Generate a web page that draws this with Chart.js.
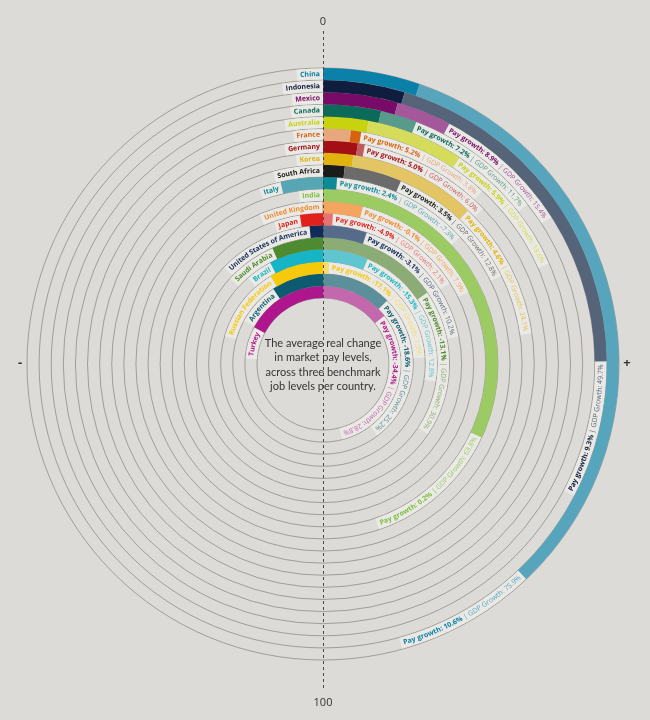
<!DOCTYPE html>
<html>
<head>
<meta charset="utf-8">
<script src="https://cdn.jsdelivr.net/npm/chart.js@4.4.0/dist/chart.umd.min.js"></script>
<style>
  html, body { margin: 0; padding: 0; background: #dcdbd7; }
  #wrap { width: 650px; height: 720px; position: relative; }
</style>
</head>
<body>
<div id="wrap"><canvas id="pay-chart"></canvas></div>
<script>
// one ring per country, outermost first
const countries = ['China', 'Indonesia', 'Mexico', 'Canada', 'Australia', 'France', 'Germany', 'Korea',
    'South Africa', 'Italy', 'India', 'United Kingdom', 'Japan', 'United States of America',
    'Saudi Arabia', 'Brazil', 'Russian Federation', 'Argentina', 'Turkey'];
const payGrowth = [10.6, 9.3, 8.9, 7.2, 5.9, 5.2, 5.0, 4.6, 3.5, 2.4, 0.2, -0.1, -4.9, -3.1,
    -13.1, -15.3, -17.1, -18.6, -34.4];
const gdpGrowth = [75.9, 49.7, 15.4, 11.7, 18.6, 3.8, 6.0, 24.1, 12.8, -7.3, 63.8, 7.9, 2.1, 10.2,
    30.9, 12.8, 1.9, 25.2, 28.8];
const darkColors = ['#0b80a8', '#0f1e3f', '#790b68', '#0b6a58', '#c6d30e', '#d8620f', '#a30f15', '#e2b30c',
    '#1b1b1b', '#0e8996', '#7cbf3f', '#f08a2e', '#e2211d', '#102a5a', '#4e8a2f', '#15b4c7', '#f6c90a',
    '#0c5b70', '#af168d'];
const lightColors = ['#57a5bd', '#566479', '#a5579b', '#579b8b', '#d5dc5a', '#e6a87c', '#c05a5c', '#e3c563',
    '#6b6b6b', '#57a6b3', '#9dcb63', '#f4a660', '#e87272', '#566a8a', '#8bad75', '#5fc6d1', '#f5dc6c',
    '#5b8f9a', '#c468ae'];
const axisLabels = { top: '0', bottom: '100', left: '-', right: '+' };
const centerText = ['The average real change', 'in market pay levels,', 'across three benchmark', 'job levels per country.'];

// the full circle spans -100 .. +100
const FULL = 200;
const DEG_PER_UNIT = 360 / FULL;
const FONT = '"Open Sans", sans-serif';
const STRIP = '#eae9e5';

function buildSegments(i) {
    const items = [
        { v: payGrowth[i], color: darkColors[i] },
        { v: gdpGrowth[i], color: lightColors[i] }
    ];
    const side = list => {
        list.sort((a, b) => a.v - b.v);
        const segs = [];
        let prev = 0;
        list.forEach(it => { segs.push({ v: it.v - prev, color: it.color }); prev = it.v; });
        return { segs, total: prev };
    };
    const left = side(items.filter(it => it.v < 0).map(it => ({ v: -it.v, color: it.color })));
    const right = side(items.filter(it => it.v >= 0).map(it => ({ v: it.v, color: it.color })));
    const segs = [...left.segs.reverse(), ...right.segs];
    const data = segs.map(s => s.v);
    const colors = segs.map(s => s.color);
    data.push(FULL - left.total - right.total);
    colors.push('rgba(0,0,0,0)');
    return { data, colors, left: left.total, right: right.total };
}

const rings = countries.map((c, i) => buildSegments(i));

const datasets = rings.map((r, i) => ({
    label: countries[i],
    data: r.data,
    backgroundColor: r.colors,
    borderWidth: 0,
    hoverBorderWidth: 0,
    rotation: -r.left * DEG_PER_UNIT,
    circumference: 360
}));

function toCanvasAngle(a) {
    return a - Math.PI / 2;
}

function measureParts(ctx, parts) {
    let w = 0;
    parts.forEach(p => {
        ctx.font = p.font;
        for (const ch of p.text) w += ctx.measureText(ch).width;
    });
    return w;
}

// text along an arc; angle is clockwise from top, dir 1 = reads clockwise, -1 = reads counterclockwise
function arcText(ctx, cx, cy, r, angle, parts, dir) {
    ctx.save();
    ctx.textAlign = 'center';
    ctx.textBaseline = 'middle';
    let offset = 0;
    parts.forEach(p => {
        ctx.font = p.font;
        ctx.fillStyle = p.color;
        for (const ch of p.text) {
            const w = ctx.measureText(ch).width;
            const a = angle + dir * (offset + w / 2) / r;
            ctx.save();
            ctx.translate(cx + r * Math.sin(a), cy - r * Math.cos(a));
            ctx.rotate(dir > 0 ? a : a + Math.PI);
            ctx.fillText(ch, 0, 0);
            ctx.restore();
            offset += w;
        }
    });
    ctx.restore();
}

function strip(ctx, cx, cy, r, width, a1, a2) {
    ctx.save();
    ctx.strokeStyle = STRIP;
    ctx.lineWidth = width;
    ctx.beginPath();
    ctx.arc(cx, cy, r, toCanvasAngle(a1), toCanvasAngle(a2));
    ctx.stroke();
    ctx.restore();
}

function ringLabels(i) {
    const fmt = v => (v === 0 ? '0' : v.toFixed(1)) + '%';
    return {
        name: [{ text: countries[i], font: 'bold 7px ' + FONT, color: darkColors[i] }],
        value: [
            { text: 'Pay growth: ' + fmt(payGrowth[i]), font: 'bold 7px ' + FONT, color: darkColors[i] },
            { text: ' | GDP Growth: ' + fmt(gdpGrowth[i]), font: '7px ' + FONT, color: lightColors[i] }
        ]
    };
}

const ringPlugin = {
    id: 'ringDecor',
    beforeDatasetsDraw(chart) {
        const ctx = chart.ctx;
        const GAP = 3;
        ctx.save();
        // thin gray ring outlines
        ctx.strokeStyle = '#979692';
        ctx.lineWidth = 0.9;
        chart.data.datasets.forEach((ds, i) => {
            const arc = chart.getDatasetMeta(i).data[0];
            ctx.beginPath();
            ctx.arc(arc.x, arc.y, arc.outerRadius, 0, Math.PI * 2);
            ctx.stroke();
            if (i === chart.data.datasets.length - 1) {
                ctx.beginPath();
                ctx.arc(arc.x, arc.y, arc.innerRadius, 0, Math.PI * 2);
                ctx.stroke();
            }
        });
        // light strips behind labels
        chart.data.datasets.forEach((ds, i) => {
            const arc = chart.getDatasetMeta(i).data[0];
            const r = (arc.innerRadius + arc.outerRadius) / 2;
            const w = arc.outerRadius - arc.innerRadius - 1;
            const lab = ringLabels(i);
            const start = -rings[i].left * DEG_PER_UNIT * Math.PI / 180;
            const end = rings[i].right * DEG_PER_UNIT * Math.PI / 180;
            const nameW = measureParts(ctx, lab.name);
            const valW = measureParts(ctx, lab.value);
            strip(ctx, arc.x, arc.y, r, w, start - (nameW + GAP * 2) / r, start);
            strip(ctx, arc.x, arc.y, r, w, end, end + (valW + GAP * 2) / r);
        });
        ctx.restore();
    },
    afterDatasetsDraw(chart) {
        const ctx = chart.ctx;
        const GAP = 3;
        const first = chart.getDatasetMeta(0).data[0];
        const cx = first.x, cy = first.y;
        ctx.save();
        // labels
        chart.data.datasets.forEach((ds, i) => {
            const arc = chart.getDatasetMeta(i).data[0];
            const r = (arc.innerRadius + arc.outerRadius) / 2;
            const lab = ringLabels(i);
            const start = -rings[i].left * DEG_PER_UNIT * Math.PI / 180;
            const end = rings[i].right * DEG_PER_UNIT * Math.PI / 180;
            const nameW = measureParts(ctx, lab.name);
            const valW = measureParts(ctx, lab.value);
            arcText(ctx, cx, cy, r, start - (nameW + GAP) / r, lab.name, 1);
            if (end * 180 / Math.PI > 70) {
                arcText(ctx, cx, cy, r, end + (valW + GAP) / r, lab.value, -1);
            } else {
                arcText(ctx, cx, cy, r, end + GAP / r, lab.value, 1);
            }
        });
        // dashed zero line
        ctx.strokeStyle = '#4a4a4a';
        ctx.lineWidth = 1;
        ctx.setLineDash([3, 3]);
        ctx.beginPath();
        ctx.moveTo(cx + 0.5, 31);
        ctx.lineTo(cx + 0.5, 691);
        ctx.stroke();
        ctx.setLineDash([]);
        // axis marks
        ctx.fillStyle = '#333';
        ctx.textAlign = 'center';
        ctx.textBaseline = 'middle';
        ctx.font = '11px ' + FONT;
        ctx.fillText(axisLabels.top, cx, 22);
        ctx.fillText(axisLabels.bottom, cx, 703);
        ctx.font = 'bold 13px ' + FONT;
        ctx.fillText(axisLabels.left, 20, cy - 1);
        ctx.fillText(axisLabels.right, 627, cy - 1);
        // center caption
        ctx.font = '11px Lato, sans-serif';
        ctx.fillStyle = '#333';
        centerText.forEach((line, k) => {
            ctx.fillText(line, cx, cy - 21 + k * 14.5);
        });
        ctx.restore();
    }
};

document.addEventListener('DOMContentLoaded', () => {
    const ctx = document.getElementById('pay-chart').getContext('2d');
    new Chart(ctx, {
        type: 'doughnut',
        data: {
            labels: countries.map(() => ''),
            datasets: datasets
        },
        options: {
            responsive: true,
            maintainAspectRatio: false,
            animation: false,
            cutout: 66,
            layout: {
                padding: { left: 27, right: 31, top: 68, bottom: 60 }
            },
            plugins: {
                legend: { display: false },
                tooltip: { enabled: false }
            },
            events: []
        },
        plugins: [ringPlugin]
    });
});
</script>
</body>
</html>
